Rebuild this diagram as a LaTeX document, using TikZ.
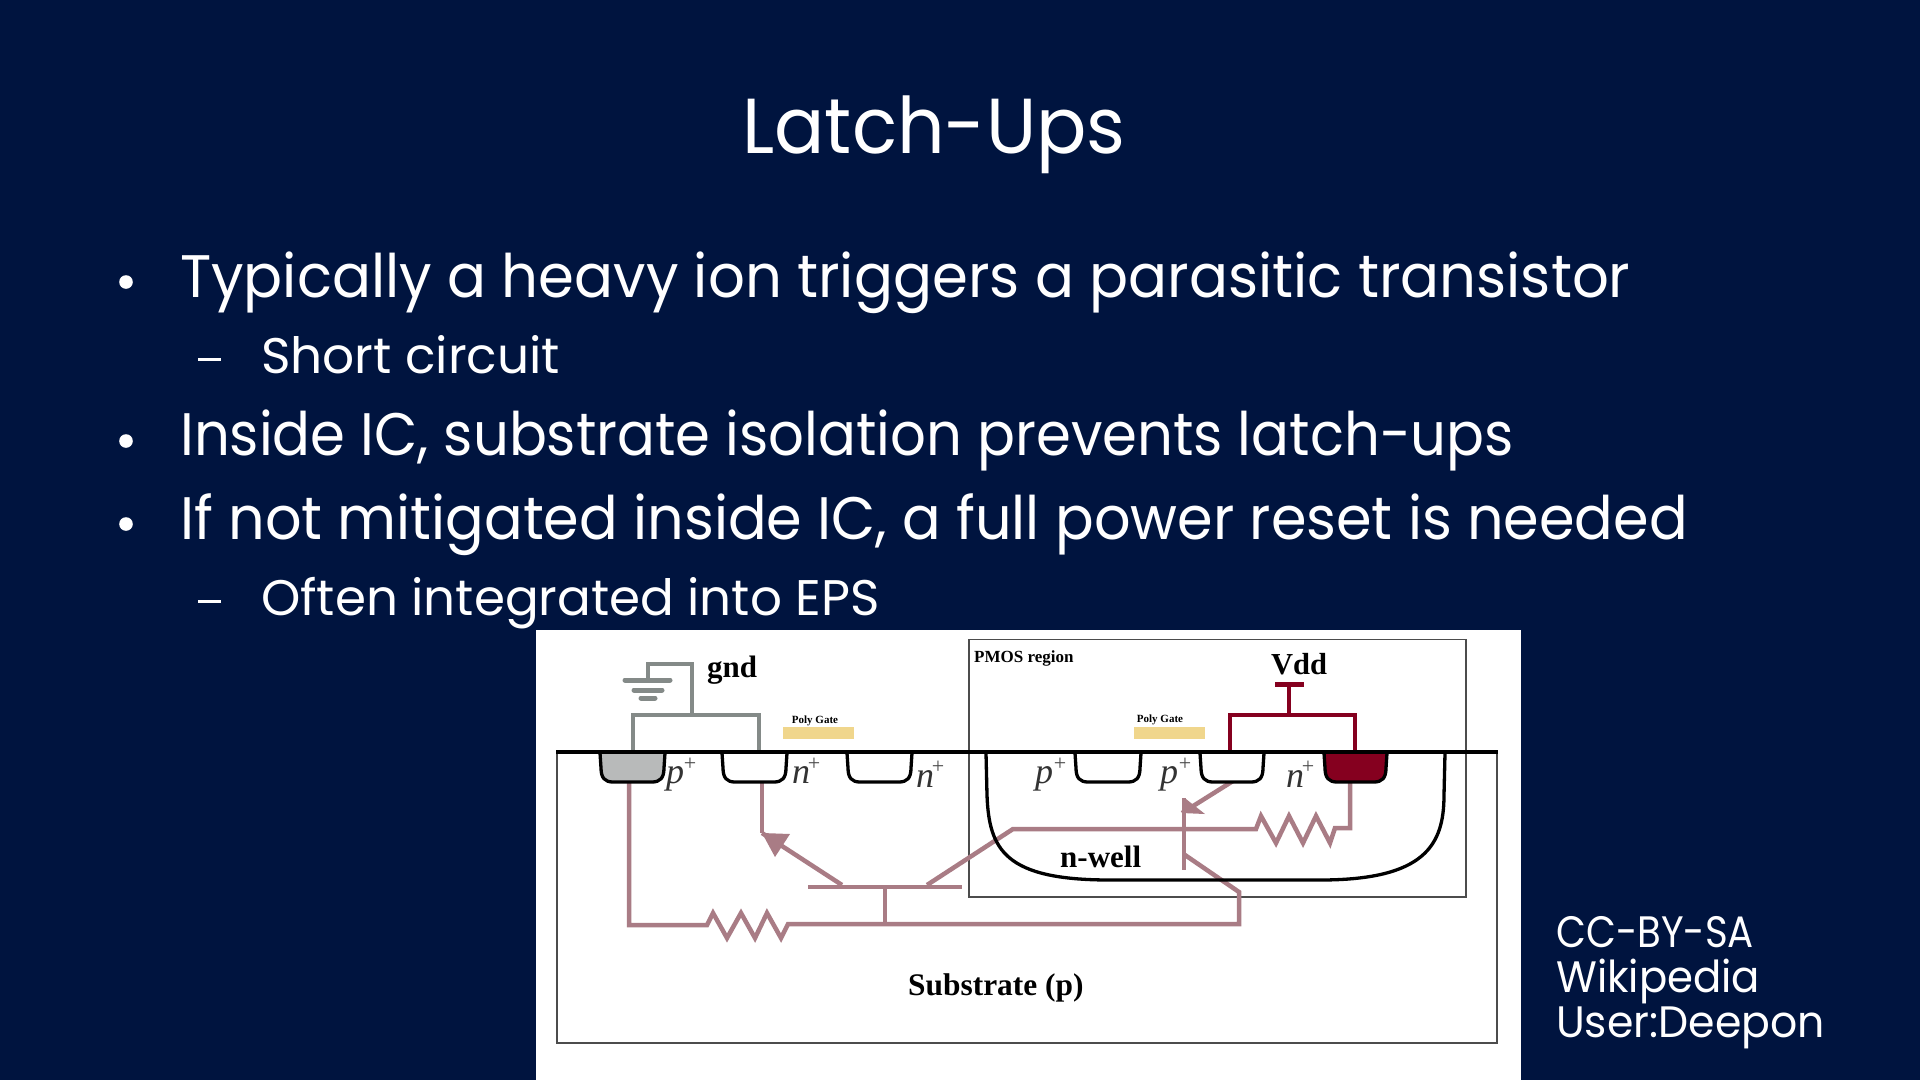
\documentclass[tikz,border=0pt]{standalone}
\usepackage{fontspec}
\setmainfont{Poppins}
\newfontfamily\timesf{Liberation Serif}
\usetikzlibrary{arrows.meta}
\definecolor{bgnavy}{HTML}{00143F}
\definecolor{pinkwire}{HTML}{A97C85}
\definecolor{graywire}{HTML}{848A88}
\definecolor{redwire}{HTML}{85001F}
\definecolor{polycol}{HTML}{F0D68C}
\definecolor{pfill}{HTML}{B8BABA}
\tikzset{
  x=1pt,y=-1pt,
  slidetext/.style={inner sep=0,anchor=base west,text=white,font=\fontsize{#1}{#1}\selectfont},
  titletext/.style={inner sep=0,anchor=base,text=white,font=\fontsize{78}{78}\selectfont},
  bold/.style={inner sep=0,anchor=base west,text=black,font=\timesf\bfseries\fontsize{#1}{#1}\selectfont},
  ital/.style={inner sep=0,anchor=base west,text=black!80,font=\timesf\itshape\fontsize{36}{36}\selectfont},
  plus/.style={inner sep=0,text=black!70,font=\timesf\fontsize{22}{22}\selectfont},
  well/.style={draw=black,line width=3.3pt,line join=round},
  pinkline/.style={draw=pinkwire,line width=4.5pt,line join=miter},
  grayline/.style={draw=graywire,line width=4.5pt},
  redline/.style={draw=redwire,line width=4.5pt},
  polygate/.style={fill=polycol,draw=none},
  framebox/.style={draw=black!70,line width=1.2pt},
}
\newcommand{\implant}[3]{%
  \draw[well,fill=#3] (#1,753) -- (#1+1,768) .. controls (#1+1,778) and (#1+5,782) .. (#1+13,782)
    -- (#2-13,782) .. controls (#2-5,782) and (#2-1,778) .. (#2-1,768) -- (#2,753);}
\begin{document}
\begin{tikzpicture}
\useasboundingbox (0,0) rectangle (1920,1080);
\fill[bgnavy] (0,0) rectangle (1920,1080);
% slide text
\node[titletext] (title) at (934,153) {\scalebox{0.955}[1]{Latch-Ups}};
\fill[white] (126,282) circle (6.8);
\node[slidetext=60] (l1) at (180,297) {\scalebox{0.962}[1]{Typically a heavy ion triggers a parasitic transistor}};
\fill[white] (198,358) rectangle (221,361);
\node[slidetext=50] (l1a) at (261,373) {\scalebox{1.004}[1]{Short circuit}};
\fill[white] (126,441) circle (6.8);
\node[slidetext=60] (l2) at (180,455) {\scalebox{0.935}[1]{Inside IC, substrate isolation prevents latch-ups}};
\fill[white] (126,524) circle (6.8);
\node[slidetext=60] (l3) at (180,539) {\scalebox{0.954}[1]{If not mitigated inside IC, a full power reset is needed}};
\fill[white] (198,600) rectangle (221,603);
\node[slidetext=50] (l3a) at (261,615) {\scalebox{1.0}[1]{Often integrated into EPS}};
\node[slidetext=44] (c1) at (1556,947) {\scalebox{0.88}[1]{CC-BY-SA}};
\node[slidetext=44] (c2) at (1556,992) {\scalebox{0.95}[1]{Wikipedia}};
\node[slidetext=44] (c3) at (1556,1037) {\scalebox{0.968}[1]{User:Deepon}};
% panel
\fill[white] (536,630) rectangle (1521,1079.5);
\draw[framebox] (557,752) -- (557,1043) -- (1497,1043) -- (1497,752);
\draw[framebox] (969,752) -- (969,639.5) -- (1466,639.5) -- (1466,752);
\draw[framebox] (969,752) -- (969,897) -- (1466,897) -- (1466,752);
% gates
\fill[polygate] (783,727) rectangle (854,739);
\fill[polygate] (1134,727) rectangle (1205,739);
\node[bold=11,anchor=base] (pg1) at (815,723) {Poly Gate};
\node[bold=11,anchor=base] (pg2) at (1160,722) {Poly Gate};
% contacts
\draw[grayline] (633,752) -- (633,715) -- (759,715) -- (759,752);
\draw[grayline] (692,715) -- (692,664) -- (648,664) -- (648,680);
\draw[graywire,line width=5pt,line cap=round] (625,680) -- (670,680);
\draw[graywire,line width=5pt,line cap=round] (634,690) -- (662,690);
\draw[graywire,line width=5pt,line cap=round] (641,698) -- (655,698);
\draw[redline] (1230,752) -- (1230,715) -- (1355,715) -- (1355,752);
\draw[redline] (1289,715) -- (1289,684);
\draw[redwire,line width=5pt] (1275,684) -- (1304,684);
% wires
\coordinate (bcE) at (842,885);
\coordinate (npnT) at (762,833);
\draw[pinkline] (629,783) -- (629,925) -- (707,925) -- (713,913) -- (727,938) -- (741,913) -- (755,938) -- (767,913) -- (781,938) -- (788,924) -- (1239,924) -- (1239,892) -- (1185,855);
\draw[pinkline] (808,887) -- (962,887);
\draw[pinkline] (885,887) -- (885,924);
\draw[pinkline] (762,783) -- (762,833);
\draw[pinkline] (bcE) -- (npnT);
\fill[pinkwire] (npnT) -- (790,834) -- (775,857) -- cycle;
\draw[pinkline] (927,885) -- (1013,829) -- (1256,829) -- (1261,816) -- (1276,843) -- (1289,816) -- (1303,843) -- (1316,816) -- (1330,843) -- (1335,828) -- (1350,828) -- (1350,782);
\draw[pinkline] (1184,798) -- (1184,870);
\coordinate (pnpT) at (1182,813);
\draw[pinkline] (1233,781) -- (pnpT);
\fill[pinkwire] (pnpT) -- (1186,799) -- (1205,814) -- cycle;
% implants
\implant{600}{665}{pfill}
\implant{722}{787}{white}
\implant{847}{912}{white}
\implant{1075}{1141}{white}
\implant{1200}{1264}{white}
\implant{1324}{1387}{redwire}
% n-well
\draw[well] (986,753) -- (987,795) .. controls (989,850) and (1005,880) .. (1110,880) -- (1320,880) .. controls (1425,880) and (1444,845) .. (1444,795) -- (1445,753);
% surface
\draw[black,line width=4.5pt] (556,752) -- (1498,752);
% labels
\node[ital] (p1) at (666,783) {p}; \node[plus] (p1s) at (690,764) {+};
\node[ital] (n1) at (792,783) {n}; \node[plus] (n1s) at (814,764) {+};
\node[ital] (n2) at (916,787) {n}; \node[plus] (n2s) at (938,767) {+};
\node[ital] (p2) at (1035,783) {p}; \node[plus] (p2s) at (1060,764) {+};
\node[ital] (p3) at (1160,783) {p}; \node[plus] (p3s) at (1185,764) {+};
\node[ital] (n3) at (1286,787) {n}; \node[plus] (n3s) at (1308,767) {+};
\node[bold=31] (gnd) at (707,677) {gnd};
\node[bold=30.5] (vdd) at (1271,674) {Vdd};
\node[bold=17] (pmos) at (974,662) {PMOS region};
\node[bold=31] (nwell) at (1060,867) {n-well};
\node[bold=31.4] (sub) at (908,995) {Substrate (p)};
\end{tikzpicture}
\end{document}
